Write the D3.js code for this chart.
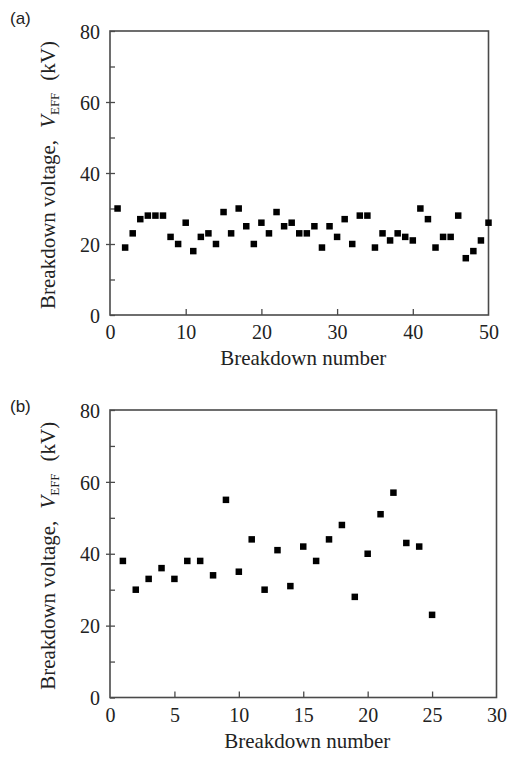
<!DOCTYPE html>
<html>
<head>
<meta charset="utf-8">
<script src="https://cdn.jsdelivr.net/npm/d3@7"></script>
<style>
  html, body { margin: 0; padding: 0; background: #fff; }
  svg { display: block; }
  .tick text { font-family: "Liberation Serif", "Times New Roman", serif; font-size: 20px; fill: #222; }
</style>
</head>
<body>
<svg id="chart" width="511" height="759"></svg>
<script>
// Breakdown voltage per breakdown event, panel (a): 50 breakdowns
const breakdownsA = d3.range(1, 51);
const voltageA = [30,19,23,27,28,28,28,22,20,26,
                  18,22,23,20,29,23,30,25,20,26,
                  23,29,25,26,23,23,25,19,25,22,
                  27,20,28,28,19,23,21,23,22,21,
                  30,27,19,22,22,28,16,18,21,26];

// Panel (b): 25 breakdowns
const breakdownsB = d3.range(1, 26);
const voltageB = [38,30,33,36,33,38,38,34,55,35,
                  44,30,41,31,42,38,44,48,28,40,
                  51,57,43,42,23];

const yTicks = [0, 20, 40, 60, 80];
const yMinorTicks = [10, 30, 50, 70];
const xTicksA = [0, 10, 20, 30, 40, 50];
const xTicksB = [0, 5, 10, 15, 20, 25, 30];

const svg = d3.select("#chart");
const serif = '"Liberation Serif", "Times New Roman", serif';
const axisColor = "#4a4a4a";

function panel(opts) {
  const { x0, x1, y0, y1, xMax, xTicks, xs, ys, tag, tagY } = opts;
  const x = d3.scaleLinear().domain([0, xMax]).range([x0, x1]);
  const y = d3.scaleLinear().domain([0, 80]).range([y1, y0]);
  const g = svg.append("g");

  // bottom axis: inward ticks, labels below
  const xa = g.append("g").attr("transform", `translate(0,${y1})`)
    .call(d3.axisBottom(x).tickValues(xTicks).tickSizeInner(-6).tickSizeOuter(0).tickPadding(10));
  xa.select(".domain").remove();
  xa.selectAll(".tick line").attr("stroke", axisColor).attr("stroke-width", 1.3)
    .filter(d => d === 0 || d === xMax).remove();

  // left axis: major ticks cross the axis, minor ticks point inward
  const ya = g.append("g").attr("transform", `translate(${x0},0)`)
    .call(d3.axisLeft(y).tickValues(yTicks).tickSizeInner(-5).tickSizeOuter(0).tickPadding(10));
  ya.select(".domain").remove();
  ya.selectAll(".tick line").attr("stroke", axisColor).attr("stroke-width", 1.3)
    .attr("x1", d => (d === 0 || d === 80) ? 0 : -4).attr("x2", 5);
  ya.selectAll(".tick text").attr("dy", "0.36em");

  const ym = g.append("g").attr("transform", `translate(${x0},0)`)
    .call(d3.axisLeft(y).tickValues(yMinorTicks).tickSizeInner(-5).tickSizeOuter(0).tickFormat(""));
  ym.select(".domain").remove();
  ym.selectAll(".tick line").attr("stroke", axisColor).attr("stroke-width", 1.3);

  // plot frame
  g.append("rect")
    .attr("x", x0).attr("y", y0)
    .attr("width", x1 - x0).attr("height", y1 - y0)
    .attr("fill", "none").attr("stroke", axisColor).attr("stroke-width", 1.6);

  // data markers
  const s = 6.5;
  g.append("g").selectAll("rect.pt")
    .data(xs.map((n, i) => [n, ys[i]]))
    .join("rect")
    .attr("class", "pt")
    .attr("x", d => x(d[0]) - s / 2)
    .attr("y", d => y(d[1]) - s / 2)
    .attr("width", s).attr("height", s)
    .attr("fill", "#000");

  // x-axis title
  g.append("text")
    .attr("x", (x0 + x1) / 2 + 4).attr("y", y1 + 50)
    .attr("text-anchor", "middle")
    .attr("font-family", serif).attr("font-size", 21).attr("fill", "#222")
    .text("Breakdown number");

  // y-axis title
  const cy = (y0 + y1) / 2 + 2;
  const t = g.append("text")
    .attr("transform", `translate(55,${cy}) rotate(-90)`)
    .attr("text-anchor", "middle")
    .attr("font-family", serif).attr("font-size", 21).attr("fill", "#222");
  t.append("tspan").text("Breakdown voltage,");
  t.append("tspan").attr("dx", 12).attr("font-style", "italic").text("V");
  t.append("tspan").attr("dy", 4).attr("font-size", 13).text("EFF");
  t.append("tspan").attr("dx", 12).attr("dy", -4).text("(kV)");

  // panel tag
  svg.append("text")
    .attr("x", 10).attr("y", tagY)
    .attr("font-family", '"Liberation Sans", Arial, sans-serif')
    .attr("font-size", 17).attr("fill", "#222")
    .text(tag);
}

panel({ x0: 110, x1: 488.5, y0: 31, y1: 315, xMax: 50, xTicks: xTicksA,
        xs: breakdownsA, ys: voltageA, tag: "(a)", tagY: 24 });
panel({ x0: 110, x1: 496.5, y0: 410, y1: 697.5, xMax: 30, xTicks: xTicksB,
        xs: breakdownsB, ys: voltageB, tag: "(b)", tagY: 412 });
</script>
</body>
</html>
